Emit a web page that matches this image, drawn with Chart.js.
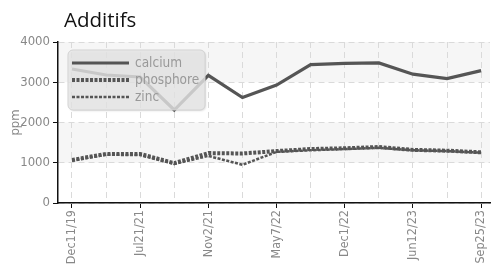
<!DOCTYPE html>
<html>
<head>
<meta charset="utf-8">
<script src="https://cdn.jsdelivr.net/npm/chart.js@4"></script>
<style>
  html, body { margin: 0; padding: 0; background: #fff; }
  #wrap { width: 502px; height: 264px; position: relative; }
</style>
</head>
<body>
<div id="wrap"><canvas id="chart"></canvas></div>
<script>
// dates (only every other one is printed on the axis)
const dates = ["Dec11/19", "", "Jul21/21", "", "Nov2/21", "", "May7/22", "", "Dec1/22", "", "Jun12/23", "", "Sep25/23"];
const calcium   = [3330, 3180, 3130, 2310, 3170, 2620, 2930, 3440, 3470, 3480, 3200, 3090, 3290];
const phosphore = [1070, 1220, 1220, 990, 1240, 1230, 1290, 1340, 1360, 1390, 1320, 1300, 1260];
const zinc      = [1050, 1200, 1190, 970, 1170, 950, 1270, 1310, 1340, 1370, 1310, 1290, 1250];
const yTicks = [0, 1000, 2000, 3000, 4000];

const FONT = "'DejaVu Sans Condensed', 'Roboto', sans-serif";
const toPoints = arr => arr.map((v, i) => ({ x: i, y: v }));

// alternating grey bands behind the plot
const bandsPlugin = {
  id: "bands",
  beforeDraw(chart) {
    const { ctx, chartArea, scales } = chart;
    ctx.save();
    ctx.fillStyle = "#f6f6f6";
    [[1000, 2000], [3000, 4000]].forEach(([lo, hi]) => {
      const top = scales.y.getPixelForValue(hi);
      const bot = scales.y.getPixelForValue(lo);
      ctx.fillRect(chartArea.left, top, chartArea.right - chartArea.left, bot - top);
    });
    ctx.restore();
  }
};

// title + legend box drawn inside the plot
const overlayPlugin = {
  id: "overlay",
  afterDraw(chart) {
    const { ctx, chartArea } = chart;
    ctx.save();
    ctx.fillStyle = "#111";
    ctx.font = "20.5px 'Open Sans', sans-serif";
    ctx.textBaseline = "alphabetic";
    ctx.fillText("Additifs", chartArea.left + 6, 27);

    const bx = chartArea.left + 10, by = chartArea.top + 8, bw = 137, bh = 60;
    ctx.shadowColor = "rgba(0,0,0,0.18)";
    ctx.shadowOffsetX = 1;
    ctx.shadowOffsetY = 1;
    ctx.shadowBlur = 2;
    ctx.fillStyle = "rgba(232,232,232,0.8)";
    ctx.beginPath();
    ctx.roundRect(bx, by, bw, bh, 5);
    ctx.fill();
    ctx.shadowColor = "transparent";
    ctx.strokeStyle = "#d2d2d2";
    ctx.lineWidth = 1;
    ctx.stroke();

    ctx.font = "13.5px " + FONT;
    ctx.textBaseline = "middle";
    chart.data.datasets.forEach((ds, i) => {
      const y = by + 13 + i * 17;
      ctx.strokeStyle = ds.borderColor;
      ctx.lineWidth = ds.borderWidth;
      ctx.setLineDash(ds.borderDash || []);
      ctx.beginPath();
      ctx.moveTo(bx + 4, y);
      ctx.lineTo(bx + 61, y);
      ctx.stroke();
      ctx.setLineDash([]);
      ctx.fillStyle = "#999";
      ctx.fillText(ds.label, bx + 67, y);
    });
    ctx.restore();
  }
};

new Chart(document.getElementById("chart").getContext("2d"), {
  type: "line",
  data: {
    datasets: [
      { label: "calcium", data: toPoints(calcium), borderColor: "#555", borderWidth: 3.2 },
      { label: "phosphore", data: toPoints(phosphore), borderColor: "#555", borderWidth: 4, borderDash: [3, 1.5] },
      { label: "zinc", data: toPoints(zinc), borderColor: "#555", borderWidth: 2.5, borderDash: [3, 1.5] }
    ]
  },
  options: {
    responsive: true,
    maintainAspectRatio: false,
    animation: false,
    layout: { padding: { top: 42, right: 12, left: 0, bottom: 0 } },
    elements: { point: { radius: 0 }, line: { tension: 0 } },
    plugins: { legend: { display: false }, title: { display: false }, tooltip: { enabled: false } },
    scales: {
      x: {
        type: "linear",
        min: -0.41,
        max: 12.26,
        afterBuildTicks: scale => { scale.ticks = dates.map((d, i) => ({ value: i })); },
        afterFit: scale => { scale.height = 61; },
        border: { color: "#111", width: 1.5, dash: [6, 4] },
        grid: {
          color: "#dadada",
          tickColor: ctx => (ctx.index % 2 === 0 ? "#111" : "rgba(0,0,0,0)"),
          tickLength: 5,
          tickBorderDash: []
        },
        ticks: {
          color: "#888",
          font: { family: FONT, size: 12.5 },
          maxRotation: 90,
          minRotation: 90,
          autoSkip: false,
          padding: 2,
          callback: v => dates[v] || ""
        }
      },
      y: {
        min: 0,
        max: 4000,
        afterBuildTicks: scale => { scale.ticks = yTicks.map(v => ({ value: v })); },
        afterFit: scale => { scale.width = 58; },
        border: { color: "#111", width: 1.5, dash: [6, 4] },
        grid: { color: "#dadada", tickColor: "#111", tickLength: 5, tickBorderDash: [] },
        ticks: { color: "#888", font: { family: FONT, size: 13 }, padding: 3, callback: v => String(v) },
        title: { display: true, text: "ppm", color: "#888", font: { family: FONT, size: 13 }, padding: { top: 8, bottom: 0 } }
      }
    }
  },
  plugins: [bandsPlugin, overlayPlugin]
});
</script>
</body>
</html>
